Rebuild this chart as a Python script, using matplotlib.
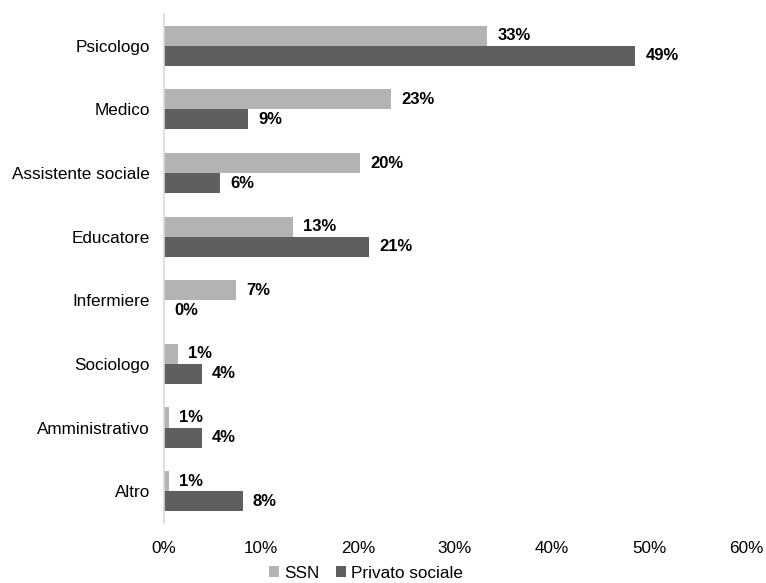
import matplotlib
matplotlib.use("Agg")
import matplotlib.pyplot as plt
from matplotlib.ticker import FuncFormatter

categories = ["Psicologo", "Medico", "Assistente sociale", "Educatore",
              "Infermiere", "Sociologo", "Amministrativo", "Altro"]
ssn = [33.3, 23.4, 20.2, 13.3, 7.4, 1.4, 0.5, 0.5]
privato = [48.6, 8.7, 5.8, 21.1, 0.0, 3.9, 3.9, 8.1]
ssn_labels = ["33%", "23%", "20%", "13%", "7%", "1%", "1%", "1%"]
privato_labels = ["49%", "9%", "6%", "21%", "0%", "4%", "4%", "8%"]
xticks = [0, 10, 20, 30, 40, 50, 60]

plt.rcParams['font.family'] = ['Liberation Sans', 'DejaVu Sans']

fig = plt.figure(figsize=(7.66, 5.83), dpi=100)
ax = fig.add_axes([0.214, 0.103, 0.76, 0.873])

n = len(categories)
ypos = list(range(n))
h = 0.315
c_ssn = "#B3B3B3"
c_priv = "#5F5F5F"
ax.barh([y - h / 2 for y in ypos], ssn, height=h, color=c_ssn, label="SSN")
ax.barh([y + h / 2 for y in ypos], privato, height=h, color=c_priv, label="Privato sociale")

for y, v, l in zip(ypos, ssn, ssn_labels):
    ax.annotate(l, (v, y - h / 2), xytext=(7.5, 0), textcoords="offset points",
                ha="left", va="center", fontsize=12, fontweight="bold")
for y, v, l in zip(ypos, privato, privato_labels):
    ax.annotate(l, (v, y + h / 2), xytext=(7.5, 0), textcoords="offset points",
                ha="left", va="center", fontsize=12, fontweight="bold")

ax.set_xlim(0, 60)
ax.set_ylim(n - 0.5, -0.5)
ax.set_yticks(ypos)
ax.set_yticklabels(categories, fontsize=12.3)
ax.set_xticks(xticks)
ax.xaxis.set_major_formatter(FuncFormatter(lambda x, p: f"{int(x)}%"))
ax.tick_params(axis="x", labelsize=12.3, length=0, pad=13)
ax.tick_params(axis="y", length=0, pad=10)
for s in ["top", "right", "bottom"]:
    ax.spines[s].set_visible(False)
ax.spines["left"].set_color("#D9D9D9")
ax.spines["left"].set_linewidth(1.2)

fig.legend(*ax.get_legend_handles_labels(), loc="center",
           bbox_to_anchor=(0.478, 0.017), bbox_transform=fig.transFigure,
           ncol=2, frameon=False, fontsize=12.3, handlelength=0.55,
           handleheight=0.55, handletextpad=0.3, columnspacing=1.0)

fig.savefig("out.png", dpi=100)
